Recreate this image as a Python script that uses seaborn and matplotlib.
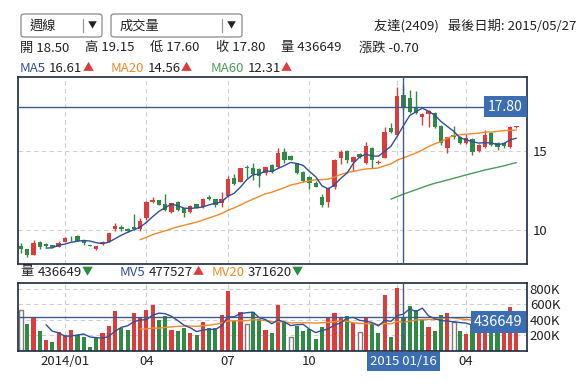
import numpy as np
import pandas as pd
import matplotlib
matplotlib.use('Agg')
import matplotlib.pyplot as plt
import matplotlib.transforms as mtransforms
from matplotlib.patches import FancyBboxPatch
from matplotlib.lines import Line2D
import seaborn as sns

# weekly candles (index 0 = first visible week)
opens = [9.01, 8.81, 8.47, 9.29, 9.16, 9.08, 8.97, 9.29, 9.60, 9.65,
         9.39, 9.06, 8.81, 9.14, 9.29, 10.10, 10.19, 10.10, 10.19, 10.10,
         10.76, 11.77, 11.89, 11.64, 11.17, 11.77, 11.39, 11.14, 11.64, 11.45,
         12.12, 11.96, 11.70, 12.16, 13.28, 13.07, 13.97, 13.91, 13.87, 13.60,
         14.12, 13.97, 14.96, 14.69, 14.22, 13.70, 13.38, 13.00, 12.12, 11.81,
         12.70, 14.54, 15.00, 14.33, 14.81, 14.22, 15.20, 14.22, 14.58, 16.43,
         16.00, 18.50, 18.32, 17.70, 17.16, 17.31, 17.41, 16.59, 15.17, 16.00,
         15.90, 15.49, 15.75, 15.00, 15.27, 16.15, 15.50, 15.49, 15.27, 16.50]
highs = [9.18, 8.85, 9.39, 9.32, 9.20, 9.10, 9.33, 9.58, 9.65, 9.68,
         9.42, 9.10, 9.03, 9.30, 9.84, 10.44, 10.34, 10.15, 11.00, 10.78,
         11.85, 12.12, 11.93, 12.27, 11.75, 11.82, 11.42, 11.60, 11.68, 12.02,
         12.20, 11.99, 12.44, 13.44, 13.55, 13.95, 14.12, 14.22, 13.90, 14.00,
         14.20, 15.21, 15.21, 14.75, 14.25, 13.74, 13.42, 13.10, 12.30, 12.70,
         14.50, 15.05, 15.05, 14.70, 14.85, 15.59, 15.25, 14.40, 16.53, 16.78,
         19.05, 19.15, 18.84, 18.80, 17.40, 17.55, 17.45, 16.62, 15.90, 16.55,
         15.95, 16.05, 15.80, 15.42, 16.32, 16.20, 15.55, 15.55, 16.60, 16.60]
lows = [8.55, 8.34, 8.45, 8.84, 8.97, 8.90, 8.95, 9.27, 9.33, 9.30,
        9.08, 9.00, 8.79, 9.10, 9.27, 9.97, 9.94, 9.90, 10.02, 9.94,
        10.65, 11.74, 11.57, 11.24, 11.10, 11.25, 10.86, 11.10, 11.40, 11.42,
        11.90, 11.50, 11.49, 12.10, 12.88, 13.03, 13.28, 13.17, 12.75, 13.50,
        13.60, 13.93, 14.22, 14.40, 13.58, 13.05, 12.60, 12.70, 11.49, 11.49,
        12.60, 14.16, 14.22, 13.75, 14.55, 14.15, 13.95, 14.15, 14.54, 16.15,
        15.95, 17.60, 17.40, 17.35, 16.64, 16.53, 16.45, 15.40, 14.85, 15.75,
        15.45, 15.45, 14.75, 14.95, 15.20, 15.30, 15.06, 15.20, 15.20, 16.45]
closes = [8.81, 8.43, 9.18, 8.97, 9.01, 8.93, 9.22, 9.54, 9.55, 9.33,
          9.18, 9.03, 9.01, 9.26, 9.81, 10.27, 10.10, 9.96, 10.07, 10.61,
          11.77, 11.91, 11.60, 11.28, 11.70, 11.28, 11.12, 11.55, 11.43, 11.99,
          11.96, 11.60, 11.96, 13.24, 12.92, 13.91, 13.91, 13.55, 13.42, 13.97,
          13.70, 14.86, 14.43, 14.43, 13.63, 13.10, 12.96, 12.75, 11.58, 12.65,
          14.43, 14.96, 14.43, 14.64, 14.64, 15.30, 14.43, 14.33, 16.22, 16.20,
          18.47, 17.80, 17.48, 17.40, 17.34, 17.50, 16.53, 15.49, 15.85, 15.85,
          15.49, 15.80, 14.96, 15.38, 16.00, 15.38, 15.27, 15.30, 16.53, 16.55]
volumes = [527000, 344000, 422000, 252000, 135000, 108000, 239000, 200000, 265000, 200000,
           174000, 43000, 161000, 226000, 318000, 514000, 291000, 265000, 488000, 435000,
           527000, 592000, 396000, 448000, 265000, 252000, 291000, 226000, 200000, 370000,
           291000, 291000, 461000, 776000, 383000, 500000, 344000, 500000, 409000, 265000,
           226000, 592000, 370000, 174000, 318000, 252000, 278000, 148000, 305000, 435000,
           488000, 435000, 448000, 357000, 239000, 435000, 344000, 226000, 723000, 174000,
           814000, 436649, 579000, 527000, 409000, 305000, 252000, 461000, 488000, 370000,
           252000, 213000, 331000, 400000, 514000, 350000, 300000, 360000, 570000, 300000]

tick_pos = [7, 20, 33, 46, 60, 71]
tick_labels = ['2014/01', '04', '07', '10', '', '04']
cross_idx = 61
cross_date = '2015 01/16'

RED = '#dc3c3c'
GREEN = '#2e8a44'
BLUE = '#2f4f9c'
ORANGE = '#f08a2a'
MA60_GREEN = '#4c9a58'
FRAME = '#1b2a42'
CROSS = '#3d5c8c'
LABEL_BG = '#3b6db2'
GRID = '#cfcfcf'
TXT = '#222222'

sns.set_theme(style='white')
plt.rcParams['font.family'] = ['Noto Sans CJK TC', 'DejaVu Sans']

df = pd.DataFrame({'o': opens, 'h': highs, 'l': lows, 'c': closes, 'v': volumes})
df['x'] = np.arange(len(df))
df['ma5'] = df['c'].rolling(5).mean()
df['ma20'] = df['c'].rolling(20).mean()
df['ma60'] = df['c'].rolling(60).mean()
df['mv5'] = df['v'].rolling(5).mean()
df['mv20'] = df['v'].rolling(20).mean()

W, H = 583, 383
fig = plt.figure(figsize=(W / 100, H / 100), dpi=100)
renderer = fig.canvas.get_renderer()


def fx(px):
    return px / W


def fy(py):
    return 1 - py / H


ax = fig.add_axes([fx(18), fy(264), fx(527) - fx(18), fy(77) - fy(264)])
axv = fig.add_axes([fx(18), fy(351), fx(527) - fx(18), fy(283) - fy(351)])

xlim = (-0.48, 80.7)

# ---- price panel ----
up = df['c'] >= df['o']
cols = np.where(up, RED, GREEN)
ax.vlines(df['x'], df['l'], df['h'], colors=cols, lw=1, zorder=2)
body = (df['c'] - df['o']).abs().clip(lower=0.04)
ax.bar(df['x'], body, bottom=np.minimum(df['o'], df['c']), width=0.7,
       color=cols, linewidth=0, zorder=3)
for col, c in [('ma60', MA60_GREEN), ('ma20', ORANGE), ('ma5', BLUE)]:
    d = df[['x', col]].dropna()
    sns.lineplot(data=d, x='x', y=col, ax=ax, color=c, linewidth=1, zorder=4)

ax.set_xlim(*xlim)
ax.set_ylim(7.88, 19.66)
ax.set_xticks(tick_pos)
ax.set_yticks([10, 15])
ax.yaxis.tick_right()
ax.tick_params(axis='x', length=0, labelbottom=False)
ax.tick_params(axis='y', length=0, pad=4, labelsize=9.5, labelcolor=TXT)
ax.grid(True, ls=(0, (4, 3)), color=GRID, lw=0.8)
ax.set_xlabel('')
ax.set_ylabel('')

cross_close = closes[cross_idx]
ax.axvline(cross_idx, color=CROSS, lw=1, zorder=5)
ax.axhline(cross_close, color=CROSS, lw=1, zorder=5)
trans = mtransforms.blended_transform_factory(ax.transAxes, ax.transData)
ax.annotate(f'{cross_close:.2f}', xy=(1, cross_close), xycoords=trans,
            xytext=(-3, 0), textcoords='offset points', ha='right', va='center',
            color='white', fontsize=10,
            bbox=dict(boxstyle='square,pad=0.28', fc=LABEL_BG, ec='none'), zorder=6)

# ---- volume panel ----
prev = df['c'].shift(1)
for i in range(len(df)):
    if i == 0 or df['c'][i] == prev[i]:
        axv.bar(i, df['v'][i], width=0.62, facecolor='white', edgecolor='#7a7a7a',
                linewidth=1, zorder=2)
    else:
        vc = RED if df['c'][i] > prev[i] else GREEN
        axv.bar(i, df['v'][i], width=0.66, color=vc, linewidth=0, zorder=2)
for col, c in [('mv20', ORANGE), ('mv5', BLUE)]:
    d = df[['x', col]].dropna()
    sns.lineplot(data=d, x='x', y=col, ax=axv, color=c, linewidth=1, zorder=4)

axv.set_xlim(*xlim)
axv.set_ylim(-6000, 880000)
axv.set_xticks(tick_pos)
axv.set_xticklabels(tick_labels)
axv.set_yticks([200000, 400000, 600000, 800000])
axv.set_yticklabels(['200K', '400K', '600K', '800K'])
axv.yaxis.tick_right()
axv.tick_params(axis='x', length=0, pad=3, labelsize=9.5, labelcolor=TXT)
axv.tick_params(axis='y', length=0, pad=2, labelsize=9.5, labelcolor=TXT)
axv.grid(True, ls=(0, (4, 3)), color=GRID, lw=0.8)
axv.set_xlabel('')
axv.set_ylabel('')

cross_vol = volumes[cross_idx]
axv.axvline(cross_idx, color=CROSS, lw=1, zorder=5)
axv.axhline(cross_vol, color=CROSS, lw=1, zorder=5)
transv = mtransforms.blended_transform_factory(axv.transAxes, axv.transData)
axv.annotate(f'{cross_vol}', xy=(1, cross_vol), xycoords=transv,
             xytext=(-3, -3.5), textcoords='offset points', ha='right', va='center',
             color='white', fontsize=10.5,
             bbox=dict(boxstyle='square,pad=0.25', fc=LABEL_BG, ec='none'), zorder=6)
transd = mtransforms.blended_transform_factory(axv.transData, axv.transAxes)
axv.annotate(cross_date, xy=(cross_idx, 0), xycoords=transd,
             xytext=(0, -7.6), textcoords='offset points', ha='center', va='center',
             color='white', fontsize=9.5,
             bbox=dict(boxstyle='square,pad=0.25', fc=LABEL_BG, ec='none'),
             annotation_clip=False, zorder=6)

for a in (ax, axv):
    for s in a.spines.values():
        s.set_visible(True)
        s.set_color(FRAME)
        s.set_linewidth(1.2)


# ---- header ----
def row(x, y, pieces):
    # pieces: (text, colour, fontsize, gap after in px)
    for t, c, fs, gap in pieces:
        txt = fig.text(fx(x), fy(y), t, fontsize=fs, ha='left', va='center', color=c)
        x += txt.get_window_extent(renderer).width + gap


def box(x0, x1, divider, label, lx):
    fig.add_artist(FancyBboxPatch((fx(x0), fy(37)), fx(x1) - fx(x0), fy(14) - fy(37),
                                  boxstyle='round,pad=0,rounding_size=0.006',
                                  transform=fig.transFigure, fc='white', ec='#8a8a8a', lw=0.9))
    fig.add_artist(Line2D([fx(divider), fx(divider)], [fy(19), fy(32)],
                          transform=fig.transFigure, color='#9a9a9a', lw=0.9))
    fig.text(fx(divider + 9), fy(26), '▼', fontsize=6.5, ha='center', va='center', color=TXT)
    fig.text(fx(lx), fy(26), label, fontsize=9.5, ha='left', va='center', color=TXT)


box(21, 102, 83, '週線', 30)
box(111, 242, 222, '成交量', 120)
fig.text(fx(576), fy(26), '友達(2409)   最後日期: 2015/05/27', fontsize=9.5,
         ha='right', va='center', color=TXT)

info = [('開 18.50', 20), ('高 19.15', 85), ('低 17.60', 150), ('收 17.80', 216),
        ('量 436649', 281), ('漲跌 -0.70', 359)]
for t, x in info:
    fig.text(fx(x), fy(48), t, fontsize=9.5, ha='left', va='center', color=TXT)

row(20, 68, [('MA5', BLUE, 9.5, 3), ('16.61', TXT, 9.5, 0), ('▲', RED, 8, 0)])
row(111, 68, [('MA20', ORANGE, 9.5, 3), ('14.56', TXT, 9.5, 0), ('▲', RED, 8, 0)])
row(211, 68, [('MA60', MA60_GREEN, 9.5, 3), ('12.31', TXT, 9.5, 0), ('▲', RED, 8, 0)])

row(20, 272, [('量', TXT, 9.5, 4), ('436649', TXT, 9.5, 0), ('▼', GREEN, 8, 0)])
row(120, 272, [('MV5', BLUE, 9.5, 3), ('477527', TXT, 9.5, 0), ('▲', RED, 8, 0)])
row(212, 272, [('MV20', ORANGE, 9.5, 3), ('371620', TXT, 9.5, 0), ('▼', GREEN, 8, 0)])

fig.savefig('out.png', dpi=100)
